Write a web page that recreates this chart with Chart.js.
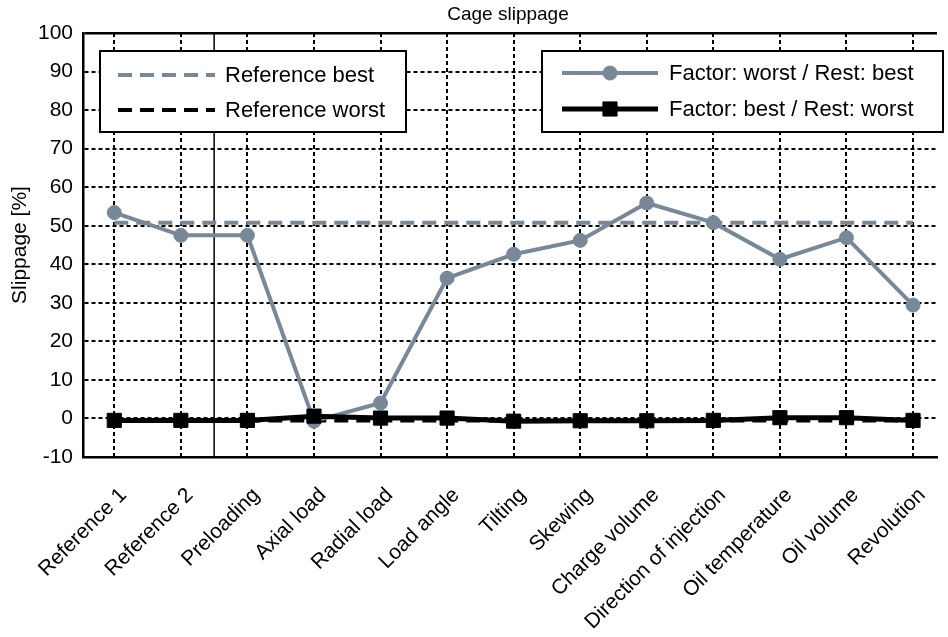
<!DOCTYPE html>
<html>
<head>
<meta charset="utf-8">
<script src="https://cdn.jsdelivr.net/npm/chart.js@4/dist/chart.umd.min.js"></script>
<style>
  html, body { margin: 0; padding: 0; background: #fff; }
  #wrap { width: 948px; height: 637px; position: relative; }
</style>
</head>
<body>
<div id="wrap"><canvas id="slipChart"></canvas></div>
<script>
const categories = ['Reference 1', 'Reference 2', 'Preloading', 'Axial load', 'Radial load', 'Load angle',
    'Tilting', 'Skewing', 'Charge volume', 'Direction of injection', 'Oil temperature', 'Oil volume', 'Revolution'];
const worstRestBest = [53.4, 47.5, 47.5, -0.7, 4.0, 36.4, 42.6, 46.2, 55.9, 50.8, 41.3, 46.9, 29.4];
const bestRestWorst = [-0.5, -0.5, -0.5, 0.6, 0.1, 0.1, -0.7, -0.6, -0.6, -0.5, 0.2, 0.2, -0.5];
const referenceBest = 50.8;
const referenceWorst = -0.5;
const dividerX = 2.5; // separates the references from the factors
const yTicks = [-10, 0, 10, 20, 30, 40, 50, 60, 70, 80, 90, 100];

const GREY = '#778899';
const FONT = "'Liberation Sans', Arial, sans-serif";

const toPoints = vals => vals.map((v, i) => ({ x: i + 1, y: v }));

// two framed legend boxes, like the original figure
const boxLegend = {
    id: 'boxLegend',
    afterDraw(chart) {
        const c = chart.ctx;
        const ds = chart.data.datasets;
        const boxes = [
            { x: 100, y: 51, w: 306, h: 81, items: [[0, 75], [1, 110]], lx: [118, 215], tx: 225 },
            { x: 542, y: 51, w: 401, h: 81, items: [[2, 73], [3, 109]], lx: [562, 658], tx: 669 }
        ];
        c.save();
        boxes.forEach(b => {
            c.fillStyle = '#fff';
            c.fillRect(b.x, b.y, b.w, b.h);
            c.lineWidth = 2;
            c.strokeStyle = '#000';
            c.setLineDash([]);
            c.strokeRect(b.x, b.y, b.w, b.h);
            b.items.forEach(([idx, y]) => {
                const d = ds[idx];
                c.beginPath();
                c.setLineDash(d.borderDash || []);
                c.lineWidth = d.borderWidth;
                c.strokeStyle = d.borderColor;
                c.moveTo(b.lx[0], y);
                c.lineTo(b.lx[1], y);
                c.stroke();
                c.setLineDash([]);
                if (d.pointRadius) {
                    c.fillStyle = d.pointBackgroundColor;
                    c.strokeStyle = d.pointBorderColor;
                    c.lineWidth = 1;
                    Chart.helpers.drawPoint(c, {
                        pointStyle: d.pointStyle, radius: d.pointRadius, borderWidth: 1
                    }, (b.lx[0] + b.lx[1]) / 2, y);
                }
                c.fillStyle = '#000';
                c.font = '22px ' + FONT;
                c.textBaseline = 'middle';
                c.textAlign = 'left';
                c.fillText(d.label, b.tx, y + 1);
            });
        });
        c.restore();
    }
};

// title text above the axes
const topTitle = {
    id: 'topTitle',
    afterDraw(chart) {
        const c = chart.ctx;
        c.save();
        c.fillStyle = '#000';
        c.font = '19px ' + FONT;
        c.textAlign = 'center';
        c.textBaseline = 'middle';
        c.fillText('Cage slippage', 508, 15);
        c.restore();
    }
};

const chart = new Chart(document.getElementById('slipChart').getContext('2d'), {
    type: 'line',
    data: {
        datasets: [
            {
                label: 'Reference best',
                data: toPoints(categories.map(() => referenceBest)),
                borderColor: GREY,
                borderWidth: 4,
                borderDash: [14, 8],
                pointRadius: 0,
                order: 3
            },
            {
                label: 'Reference worst',
                data: toPoints(categories.map(() => referenceWorst)),
                borderColor: '#000',
                borderWidth: 4,
                borderDash: [14, 8],
                pointRadius: 0,
                order: 4
            },
            {
                label: 'Factor: worst / Rest: best',
                data: toPoints(worstRestBest),
                borderColor: GREY,
                borderWidth: 4,
                pointStyle: 'circle',
                pointRadius: 7,
                pointBackgroundColor: GREY,
                pointBorderColor: GREY,
                pointBorderWidth: 1,
                order: 2
            },
            {
                label: 'Factor: best / Rest: worst',
                data: toPoints(bestRestWorst),
                borderColor: '#000',
                borderWidth: 5,
                pointStyle: 'rect',
                pointRadius: 10,
                pointBackgroundColor: '#000',
                pointBorderColor: '#000',
                pointBorderWidth: 1,
                order: 1
            },
            {
                label: 'divider',
                data: [{ x: dividerX, y: yTicks[0] }, { x: dividerX, y: yTicks[yTicks.length - 1] }],
                borderColor: '#000',
                borderWidth: 1.5,
                pointRadius: 0,
                order: 5
            }
        ]
    },
    options: {
        responsive: true,
        maintainAspectRatio: false,
        animation: false,
        layout: { padding: { top: 33, left: 0, right: 0, bottom: 0 } },
        plugins: {
            legend: { display: false },
            tooltip: { enabled: false },
            title: { display: false }
        },
        scales: {
            x: {
                type: 'linear',
                min: 0.53,
                max: 13.36,
                afterBuildTicks: scale => {
                    scale.ticks = categories.map((_, i) => ({ value: i + 1 }));
                },
                afterFit: scale => {
                    scale.height = 180;
                    scale.paddingLeft = 0;
                    scale.paddingRight = 0;
                },
                ticks: {
                    autoSkip: false,
                    minRotation: 45,
                    maxRotation: 45,
                    padding: 26,
                    labelOffset: 9,
                    color: '#000',
                    font: { family: FONT, size: 21 },
                    callback: value => categories[value - 1]
                },
                grid: { color: '#000', lineWidth: 2, drawTicks: false },
                border: { color: '#000', width: 2.5, dash: [4, 3] }
            },
            y: {
                min: -10,
                max: 100,
                afterBuildTicks: scale => {
                    scale.ticks = yTicks.map(v => ({ value: v }));
                },
                afterFit: scale => {
                    scale.width = 83;
                    scale.paddingTop = 0;
                    scale.paddingBottom = 0;
                },
                ticks: {
                    padding: 10,
                    color: '#000',
                    font: { family: FONT, size: 21 }
                },
                title: {
                    display: true,
                    text: 'Slippage [%]',
                    color: '#000',
                    font: { family: FONT, size: 21 },
                    padding: { top: 8, bottom: 0 }
                },
                grid: {
                    color: '#000',
                    lineWidth: ctx => (ctx.tick && ctx.tick.value === 100 ? 2.5 : 2),
                    drawTicks: false
                },
                border: {
                    color: '#000',
                    width: 2.5,
                    dash: ctx => (ctx.tick && (ctx.tick.value === 100 || ctx.tick.value === -10) ? [] : [4, 3])
                }
            }
        }
    },
    plugins: [boxLegend, topTitle]
});
</script>
</body>
</html>
